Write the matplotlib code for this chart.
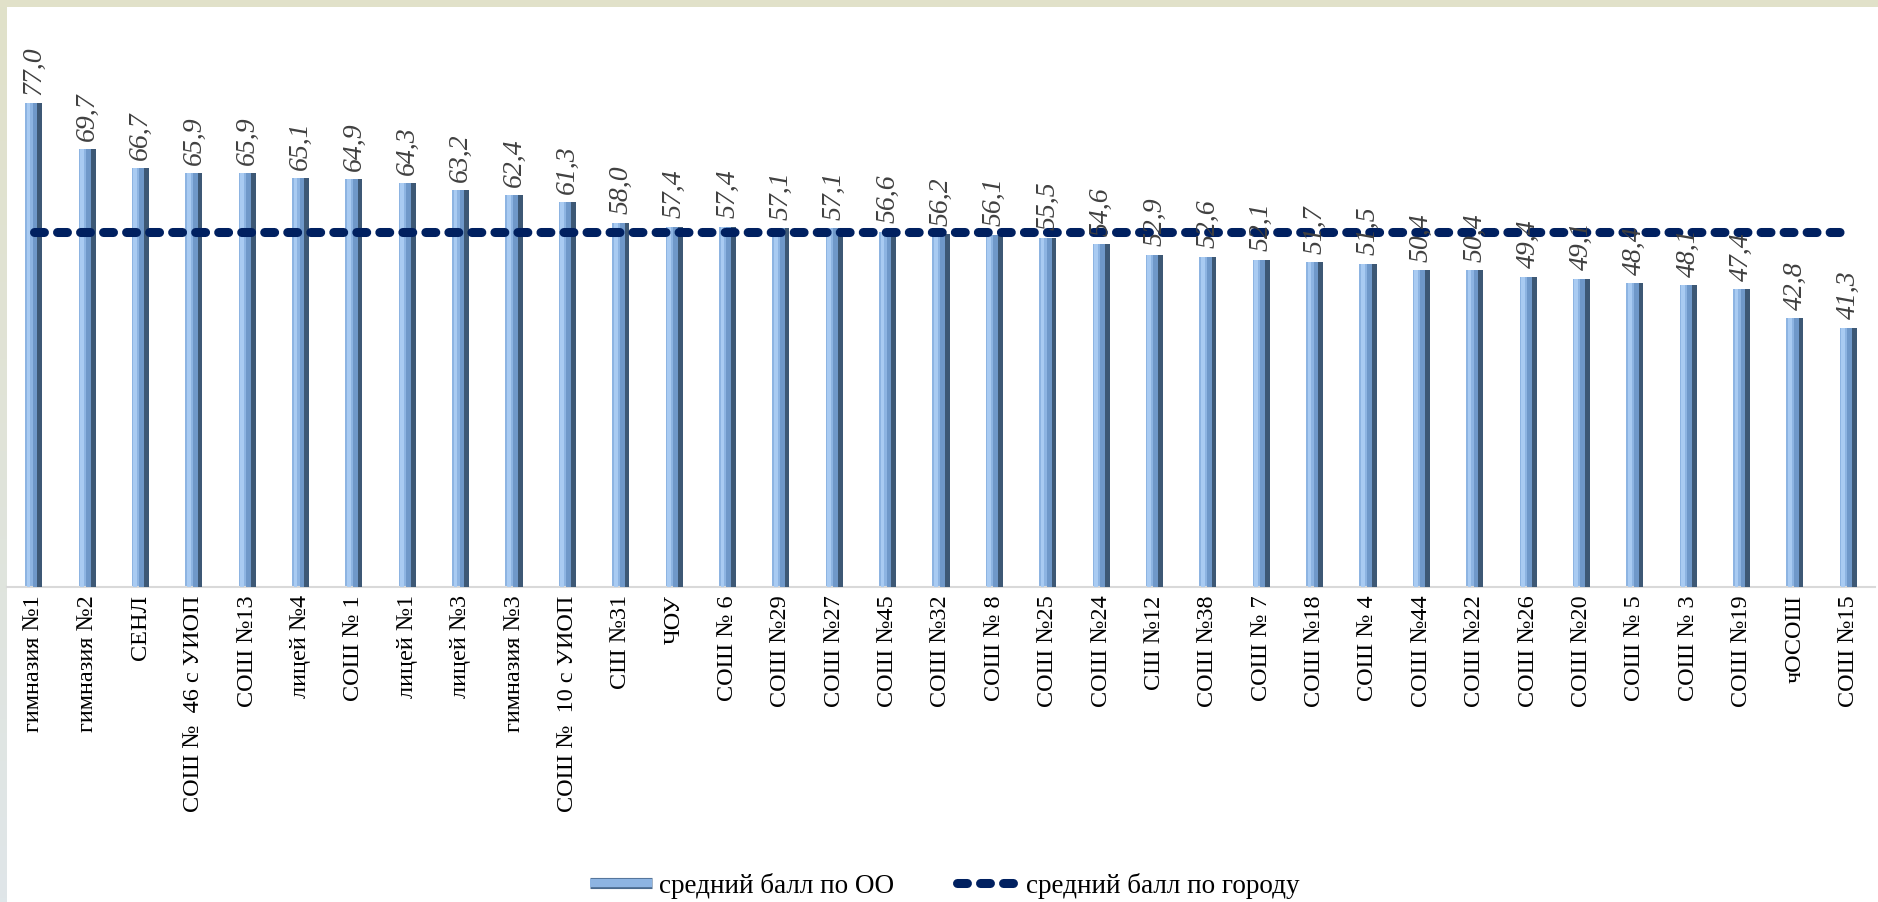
import matplotlib.pyplot as plt
import numpy as np
from matplotlib.lines import Line2D
from matplotlib.patches import Rectangle
from matplotlib.colors import LinearSegmentedColormap
import matplotlib.patheffects as pe

schools = [
    "гимназия №1", "гимназия №2", "СЕНЛ", "СОШ №  46 с УИОП", "СОШ №13",
    "лицей №4", "СОШ № 1", "лицей №1", "лицей №3", "гимназия №3",
    "СОШ №  10 с УИОП", "СШ №31", "ЧОУ", "СОШ № 6", "СОШ №29",
    "СОШ №27", "СОШ №45", "СОШ №32", "СОШ № 8", "СОШ №25",
    "СОШ №24", "СШ №12", "СОШ №38", "СОШ № 7", "СОШ №18",
    "СОШ № 4", "СОШ №44", "СОШ №22", "СОШ №26", "СОШ №20",
    "СОШ № 5", "СОШ № 3", "СОШ №19", "чОСОШ", "СОШ №15",
]
school_avg = [
    77.0, 69.7, 66.7, 65.9, 65.9, 65.1, 64.9, 64.3, 63.2, 62.4,
    61.3, 58.0, 57.4, 57.4, 57.1, 57.1, 56.6, 56.2, 56.1, 55.5,
    54.6, 52.9, 52.6, 52.1, 51.7, 51.5, 50.4, 50.4, 49.4, 49.1,
    48.4, 48.1, 47.4, 42.8, 41.3,
]
city_avg = 56.5

W, H = 1878, 902
fig = plt.figure(figsize=(W / 100, H / 100), dpi=100)
fig.patch.set_facecolor("white")

# рамка слайда: полоса сверху и градиент слева
fig.patches.append(Rectangle((0, 1 - 7 / H), 1, 7 / H, transform=fig.transFigure,
                             facecolor="#e1e1c9", edgecolor="none", zorder=0))
frame = fig.add_axes([0, 0, 7 / W, 1])
grad = np.linspace(0, 1, 256).reshape(-1, 1)
cmap = LinearSegmentedColormap.from_list("frame", ["#e1e1c9", "#dfe6e9"])
frame.imshow(grad, aspect="auto", cmap=cmap, extent=[0, 1, 0, 1])
frame.axis("off")

scale = 6.28  # px per unit
ymax = 88
ax = fig.add_axes([7 / W, 1 - 587 / H, (1875 - 7) / W, ymax * scale / H])
ax.set_facecolor("none")

x = np.arange(len(schools))
bw = 0.32
# имитация объёмных столбиков
ax.bar(x, school_avg, bw, color="#8db4e2", zorder=2)
ax.bar(x + bw * 0.22, school_avg, bw * 0.56, color="#6f98c9", zorder=3)
ax.bar(x + bw * 0.36, school_avg, bw * 0.28, color="#3d5875", zorder=4)
ax.bar(x - bw * 0.30, school_avg, bw * 0.22, color="#a9cbf2", zorder=4)

ax.plot(x, [city_avg] * len(x), color="#002060", linewidth=6.5,
        dashes=(1.1, 1.45), dash_capstyle="round", zorder=5)

for xi, v in zip(x, school_avg):
    ax.annotate(f"{v:.1f}".replace(".", ","), (xi, v), xytext=(0, 6),
                textcoords="offset points", rotation=90, ha="center", va="bottom",
                fontsize=20, fontstyle="italic", family="Liberation Serif",
                color="#404040", zorder=6)

ax.set_xlim(-0.5, len(schools) - 0.5)
ax.set_ylim(0, ymax)
ax.set_xticks(x)
ax.set_xticklabels(schools, rotation=90, fontsize=17.5, family="Liberation Serif",
                   va="top", ha="center")
ax.tick_params(axis="x", length=0, pad=6)
ax.set_yticks([])
for side in ["top", "right", "left"]:
    ax.spines[side].set_visible(False)
ax.spines["bottom"].set_color("#d9d9d9")
ax.spines["bottom"].set_linewidth(1.5)

handles = [
    Line2D([0], [0], color="#8db4e2", linewidth=6, solid_capstyle="butt",
           path_effects=[pe.Stroke(linewidth=8, foreground="#4a6a8e"), pe.Normal()],
           label="средний балл по ОО"),
    Line2D([0], [0], color="#002060", linewidth=6.5, dashes=(1.1, 1.45),
           dash_capstyle="round", label="средний балл по городу"),
]
fig.legend(handles=handles, loc="center", bbox_to_anchor=(0.503, 0.018), ncol=2,
           frameon=False, prop={"family": "Liberation Serif", "size": 19.5},
           handlelength=2.3, columnspacing=2.3, handletextpad=0.25)

fig.savefig("out.png", dpi=100)
